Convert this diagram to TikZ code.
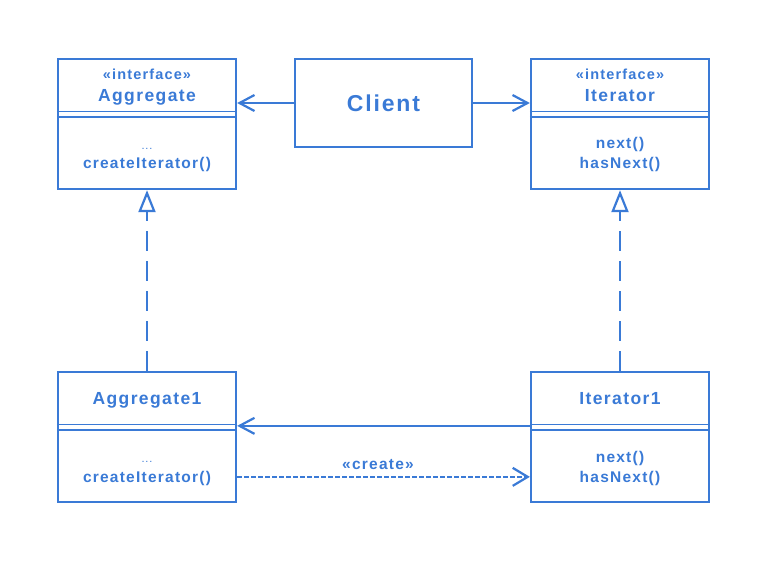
\documentclass[tikz,border=0pt]{standalone}
\usepackage{fontspec}
\setmainfont{Liberation Sans}[LetterSpace=8]
\usetikzlibrary{arrows.meta,positioning}
\definecolor{umlblue}{RGB}{58,122,214}
\tikzset{
  umlclass/.style={draw=umlblue, line width=2.3pt, minimum width=178pt,
    minimum height=130pt, inner sep=0pt},
  rule/.style={draw=umlblue, line width=1.5pt},
  stereo/.style={text=umlblue, inner sep=0pt, anchor=base, font=\bfseries\fontsize{14.5}{17}\selectfont},
  cname/.style={text=umlblue, inner sep=0pt, anchor=base, font=\bfseries\fontsize{17.5}{20}\selectfont},
  meth/.style={text=umlblue, inner sep=0pt, anchor=base, font=\bfseries\fontsize{15.5}{18}\selectfont},
  dots/.style={text=umlblue, inner sep=0pt, anchor=base, font=\fontsize{11}{13}\selectfont},
  assoc/.style={draw=umlblue, line width=2.2pt, -{Straight Barb[length=15pt,width=16pt]}},
  realize/.style={draw=umlblue, line width=2.2pt, dash pattern=on 20pt off 10pt,
    -{Triangle[open,length=22pt,width=17pt]}},
  depend/.style={draw=umlblue, line width=2.2pt, dash pattern=on 4.5pt off 2.5pt,
    -{Straight Barb[length=15pt,width=18pt]}}
}
\begin{document}
\begin{tikzpicture}[x=1pt,y=-1pt]
\useasboundingbox (0,0) rectangle (769,563);

% the class boxes
\node[umlclass] (agg) at (147,124) {};
\node[umlclass] (it) at (620,124) {};
\node[umlclass] (agg1) at (147,437) {};
\node[umlclass] (it1) at (620,437) {};
\node[umlclass, minimum width=177pt, minimum height=88pt] (client) at (383.5,103) {};

% the compartment rules
\foreach \c in {agg,it,agg1,it1}
  \draw[rule] ([yshift=-53.5pt]\c.north west) -- ([yshift=-53.5pt]\c.north east)
              ([yshift=-59pt]\c.north west) -- ([yshift=-59pt]\c.north east);

% the texts (at their baselines)
\node[stereo] (aggst) at (147,79) {«interface»};
\node[cname] (aggname) at (147,101) {Aggregate};
\node[dots] (aggdots) at (147,149) {...};
\node[meth] (aggop) at (147,168.5) {createIterator()};

\node[stereo] (itst) at (620,79) {«interface»};
\node[cname] (itname) at (620,101) {Iterator};
\node[meth] (itnext) at (620,148.5) {next()};
\node[meth] (ithas) at (620,168.5) {hasNext()};

\node[cname, font=\bfseries\fontsize{23}{26}\selectfont] (cl) at (383.5,111) {Client};

\node[cname] (agg1name) at (147,404.5) {Aggregate1};
\node[dots] (agg1dots) at (147,462) {...};
\node[meth] (agg1op) at (147,482.5) {createIterator()};

\node[cname] (it1name) at (620,404.5) {Iterator1};
\node[meth] (it1next) at (620,462) {next()};
\node[meth] (it1has) at (620,482.5) {hasNext()};

% the connectors
\draw[assoc] (client.west) -- (client.west -| agg.east);
\draw[assoc] (client.east) -- (client.east -| it.west);
\draw[realize] (agg1.north) -- (agg.south);
\draw[realize] (it1.north) -- (it.south);
\draw[assoc] ([yshift=-55pt]it1.north west) -- ([yshift=-55pt]agg1.north east);
\coordinate (cr) at ([yshift=-106pt]agg1.north east);
\draw[depend] (cr) -- (cr -| it1.west);
\node[meth] (crlabel) at (378,469) {«create»};
\end{tikzpicture}
\end{document}
